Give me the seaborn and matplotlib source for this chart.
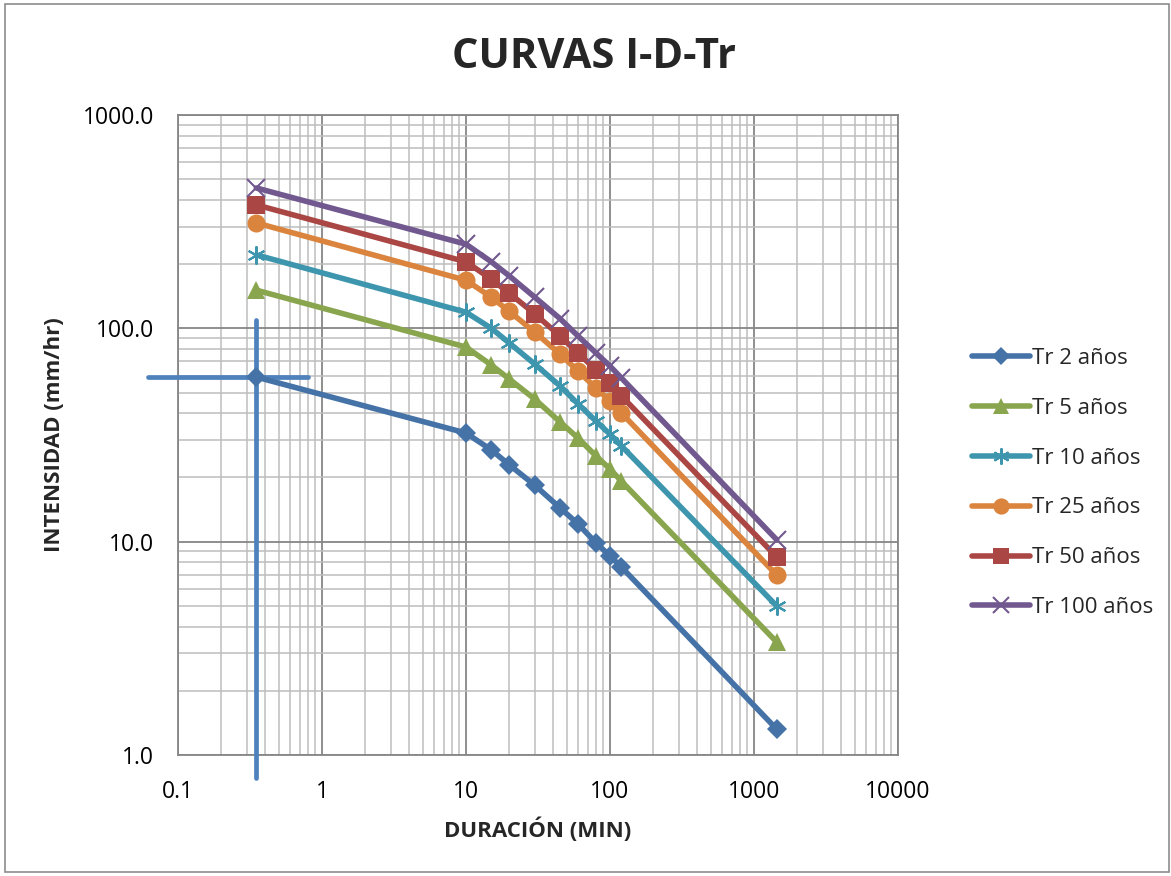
import matplotlib
matplotlib.use("Agg")
import matplotlib.pyplot as plt
import seaborn as sns
import pandas as pd
from matplotlib.ticker import FixedLocator, FixedFormatter, LogLocator, NullFormatter
from matplotlib.patches import Rectangle

duracion = [0.35, 10, 15, 20, 30, 45, 60, 80, 100, 120, 1440]
tr2 = [59.1, 32.3, 26.9, 22.9, 18.4, 14.4, 12.1, 9.86, 8.57, 7.6, 1.32]
tr5 = [151, 81.7, 67.3, 57.8, 46.6, 36.4, 30.6, 25.2, 21.9, 19.2, 3.38]
tr10 = [221, 119, 100, 85.3, 68, 53.7, 44.2, 36.7, 31.9, 28.1, 4.99]
tr25 = [312, 168, 140, 120, 96, 75.8, 63, 52.5, 45.6, 40.1, 6.97]
tr50 = [379, 205, 170, 146, 117, 92, 76.6, 63.8, 55.4, 48.2, 8.47]
tr100 = [455, 248, 205, 176, 140, 111, 92, 76.6, 66.5, 58.5, 10.2]
series_names = ["Tr 2 años", "Tr 5 años", "Tr 10 años", "Tr 25 años", "Tr 50 años", "Tr 100 años"]
x_ticks = [0.1, 1, 10, 100, 1000, 10000]
x_labels = ["0.1", "1", "10", "100", "1000", "10000"]
y_ticks = [1, 10, 100, 1000]
y_labels = ["1.0", "10.0", "100.0", "1000.0"]
guide_x = 0.35
guide_y = 59.1

sns.set_theme(style="white")
plt.rcParams["font.family"] = ["Open Sans", "DejaVu Sans"]

colors = ["#4572A7", "#89A54E", "#3D96AE", "#DB843D", "#AA4643", "#71588F"]
markers = ["D", "^", (6, 2, 0), "o", "s", "x"]
msizes = [10, 13, 13, 13, 12.5, 13]

fig = plt.figure(figsize=(11.71, 8.76), dpi=100)
fig.patches.append(Rectangle((5/1171, 1 - 872/876), 1164/1171, 868/876, transform=fig.transFigure,
                             fill=False, edgecolor="#8c8c8c", linewidth=1.2))
ax = fig.add_axes([178/1171, 1 - 755/876, 720/1171, 640/876])

# crosshair guide lines
ax.plot([0.062, 0.8], [guide_y, guide_y], color="#4F81BD", linewidth=3.4, clip_on=False, zorder=5)
ax.plot([guide_x, guide_x], [0.78, 109], color="#4F81BD", linewidth=3.4, clip_on=False, zorder=5)

all_vals = [tr2, tr5, tr10, tr25, tr50, tr100]
for name, vals, c, m, ms in zip(series_names, all_vals, colors, markers, msizes):
    df = pd.DataFrame({"d": duracion, "i": vals})
    is_line_marker = (m == "x") or isinstance(m, tuple)
    mew = 1.5 if is_line_marker else 0
    sns.lineplot(data=df, x="d", y="i", ax=ax, color=c, linewidth=4.0, marker=m, markersize=ms,
                 markeredgewidth=mew, markeredgecolor=c, label=name, zorder=6, sort=False)

ax.set_xscale("log")
ax.set_yscale("log")
ax.set_xlim(0.1, 10000)
ax.set_ylim(1, 1000)
ax.xaxis.set_major_locator(FixedLocator(x_ticks))
ax.xaxis.set_major_formatter(FixedFormatter(x_labels))
ax.yaxis.set_major_locator(FixedLocator(y_ticks))
ax.yaxis.set_major_formatter(FixedFormatter(y_labels))
ax.xaxis.set_minor_locator(LogLocator(base=10, subs=range(2, 10)))
ax.yaxis.set_minor_locator(LogLocator(base=10, subs=range(2, 10)))
ax.xaxis.set_minor_formatter(NullFormatter())
ax.yaxis.set_minor_formatter(NullFormatter())
ax.grid(True, which="major", color="#868686", lw=1.3)
ax.grid(True, which="minor", color="#bdbdbd", lw=1.1)
ax.set_axisbelow(True)
for s in ax.spines.values():
    s.set_color("#868686")
    s.set_linewidth(1.3)
ax.tick_params(axis="x", which="both", length=0, labelsize=16.5, colors="black", pad=18)
ax.tick_params(axis="y", which="both", length=0, labelsize=16.5, colors="black", pad=17)

ax.set_xlabel("DURACIÓN (MIN)", fontsize=16, fontweight="bold", labelpad=10)
ax.set_ylabel("INTENSIDAD (mm/hr)", fontsize=16, fontweight="bold", labelpad=13)
fig.text(594/1171, 1 - 58/876, "CURVAS I-D-Tr", ha="center", va="center", fontsize=30, fontweight="bold")

leg = ax.legend(loc="center left", bbox_to_anchor=(1.075, 0.425), frameon=False, fontsize=16,
                handlelength=2.6, handletextpad=0.1, labelspacing=1.3, markerscale=0.9)

fig.savefig("out.png", dpi=100)
